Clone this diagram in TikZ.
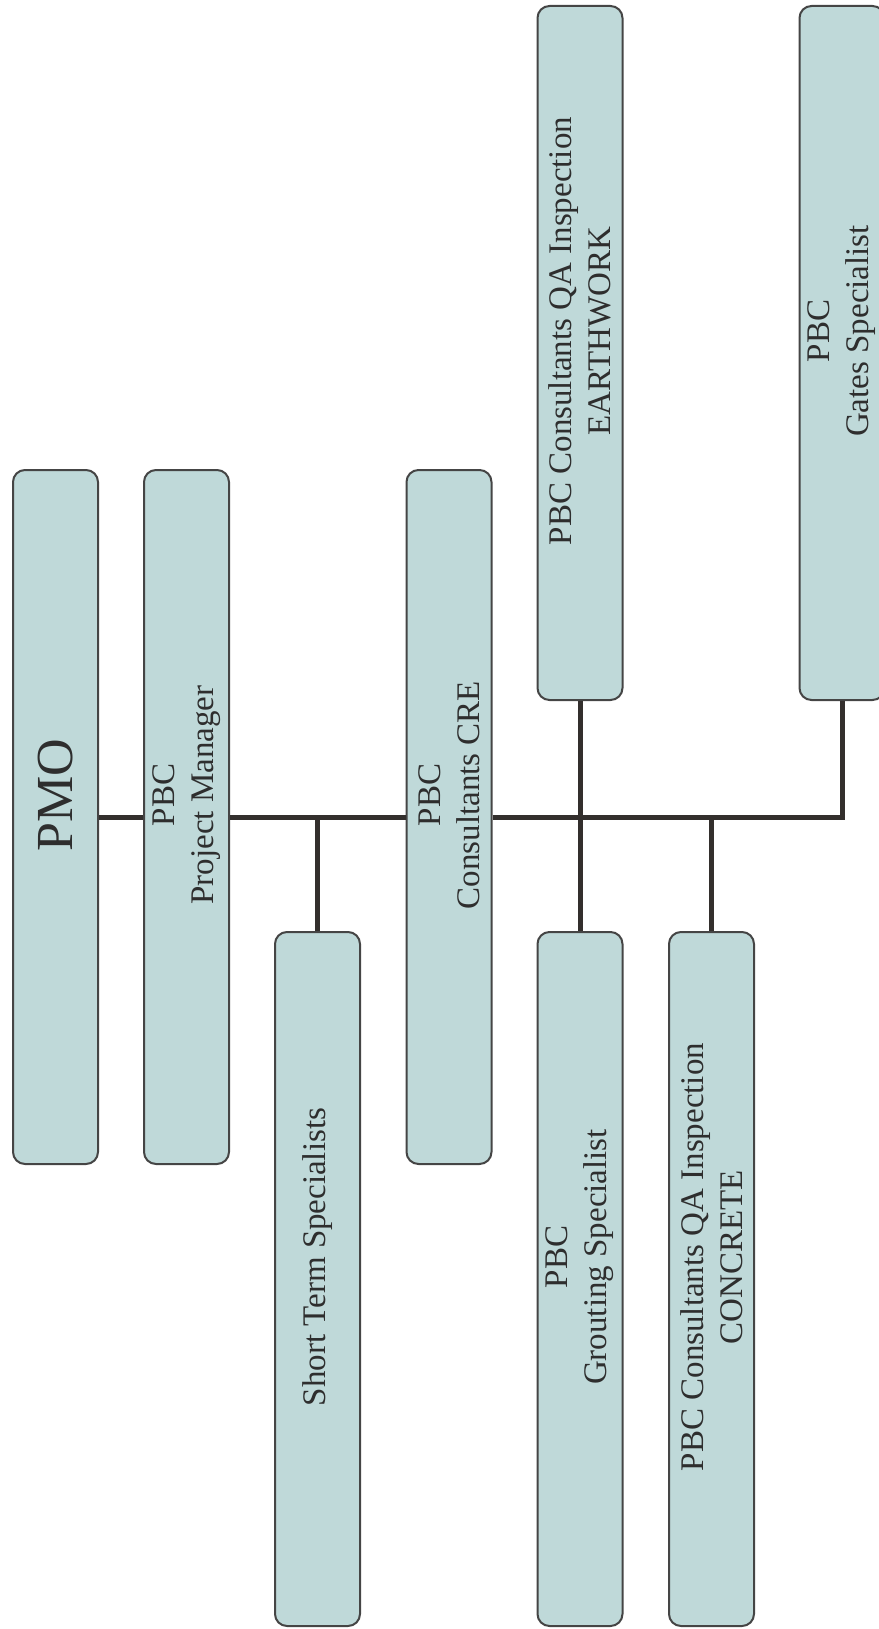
\documentclass[tikz,border=0pt]{standalone}
\usepackage{fontspec}
\setmainfont{Liberation Serif}

\definecolor{boxfill}{HTML}{BFD9D9}
\definecolor{boxline}{HTML}{454545}
\definecolor{linkcol}{HTML}{332F2D}
\definecolor{textcol}{HTML}{2E2E2E}

\begin{document}
\begin{tikzpicture}[x=1pt, y=-1pt,
    unit/.style={draw=boxline, line width=2pt, fill=boxfill, rounded corners=12pt,
        minimum width=85pt, minimum height=694pt, inner sep=0pt},
    caption/.style={rotate=90, align=center, text=textcol,
        font=\fontsize{33}{39}\selectfont},
    link/.style={draw=linkcol, line width=5pt, line join=miter}]

    % Размер листа
    \useasboundingbox (0,0) rectangle (878,1629);

    % Блоки
    \foreach \name/\x/\y in {
        pmo/55.5/817, pm/186.5/817, cre/449/817,
        sts/317.5/1279, grout/580/1279, concrete/711.5/1279,
        earth/580/353, gates/842/353}
    {
        \node[unit] (\name) at (\x,\y) {};
    }

    % Подписи
    \node[caption, font=\fontsize{52}{60}\selectfont] (pmo-text) at ([yshift=22pt]pmo.center) {PMO};
    \node[caption] (pm-text) at ([yshift=22pt]pm.center) {PBC\\Project Manager};
    \node[caption] (cre-text) at ([yshift=22pt]cre.center) {PBC\\Consultants CRE};
    \node[caption] (sts-text) at ([yshift=22pt]sts.center) {Short Term Specialists};
    \node[caption] (grout-text) at ([yshift=22pt]grout.center) {PBC\\Grouting Specialist};
    \node[caption] (concrete-text) at ([yshift=22pt]concrete.center) {PBC Consultants QA Inspection\\CONCRETE};
    \node[caption] (earth-text) at ([yshift=22pt]earth.center) {PBC Consultants QA Inspection\\EARTHWORK};
    \node[caption] (gates-text) at ([yshift=22pt]gates.center) {PBC\\Gates Specialist};

    % Связи
    \draw[link] (pmo.east) -- (pm.west);
    \draw[link] (pm.east) -- (cre.west);
    \draw[link] (cre.east) -- (cre.east -| gates.south) -- (gates.south);
    \draw[link] (sts.north) -- (sts.north |- pm.east);
    \draw[link] (earth.south) -- (grout.north);
    \draw[link] (concrete.north) -- (concrete.north |- cre.east);
\end{tikzpicture}
\end{document}
